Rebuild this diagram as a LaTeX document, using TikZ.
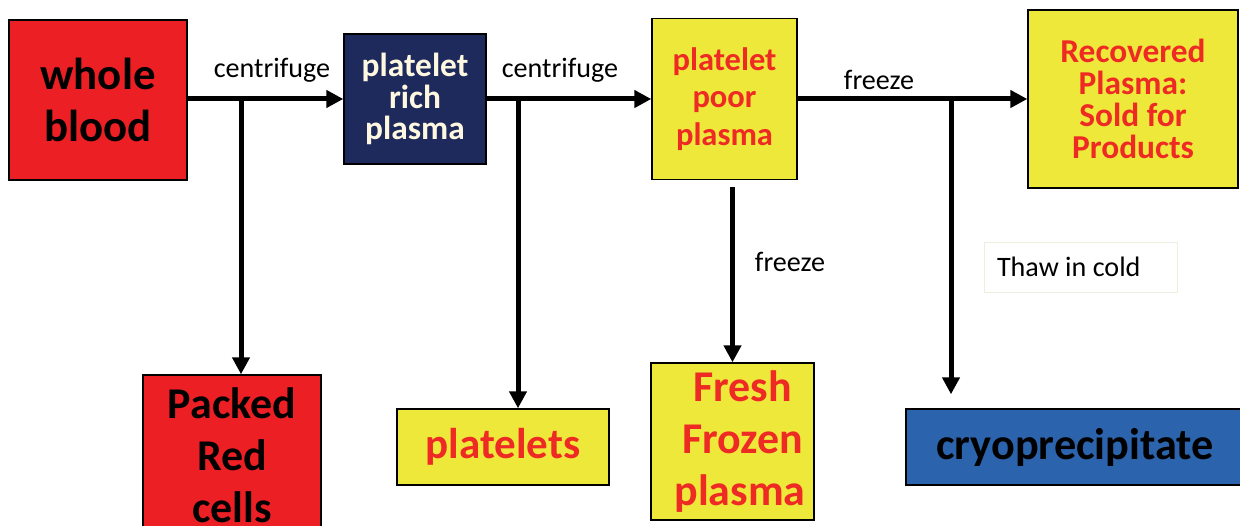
\documentclass[tikz,border=0pt]{standalone}
\usepackage{fontspec}
\setmainfont{Carlito}
\usetikzlibrary{arrows.meta,positioning}

\definecolor{bloodred}{HTML}{EC2024}
\definecolor{plyellow}{HTML}{EEE83A}
\definecolor{prpnavy}{HTML}{1F2A5C}
\definecolor{cryoblue}{HTML}{2B63AC}
\definecolor{labelred}{HTML}{EE2A24}
\definecolor{cream}{HTML}{FFF8E0}

\begin{document}
\begin{tikzpicture}[x=0.02cm, y=-0.02cm,
    box/.style={draw=black, line width=0.8pt, align=center, inner sep=0pt, font=\bfseries},
    flow/.style={line width=0.1cm, -{Triangle[length=0.34cm,width=0.34cm]}},
    lbl/.style={font=\fontsize{16}{19}\selectfont, inner sep=0pt}]

    \clip (0,0) rectangle (1240,526);
    \fill[white] (0,0) rectangle (1240,526);

    % top row
    \node[box, fill=bloodred, minimum width=3.56cm, minimum height=3.2cm,
        font=\bfseries\fontsize{25.5}{29.5}\selectfont] (blood) at (98,100) {whole\\blood};
    \node[box, fill=prpnavy, text=cream, minimum width=2.84cm, minimum height=2.6cm,
        font=\bfseries\fontsize{19}{18}\selectfont] (prp) at (415,99) {platelet\\rich\\plasma};
    \node[box, fill=plyellow, text=labelred, minimum width=2.9cm, minimum height=3.22cm,
        font=\bfseries\fontsize{18.5}{21.5}\selectfont] (ppp) at (724.5,99) {platelet\\poor\\plasma};
    \node[box, fill=plyellow, text=labelred, minimum width=4.2cm, minimum height=3.56cm,
        font=\bfseries\fontsize{19}{18.2}\selectfont] (recov) at (1133,99) {Recovered\\Plasma:\\Sold for\\Products};

    % bottom row
    \node[box, fill=bloodred, minimum width=3.56cm, minimum height=3.2cm,
        font=\bfseries\fontsize{25}{29.5}\selectfont] (packed) at (232,455) {Packed\\Red\\cells};
    \node[box, fill=plyellow, text=labelred, minimum width=4.24cm, minimum height=1.52cm,
        font=\bfseries\fontsize{24.5}{28}\selectfont] (plt) at (503,447) {platelets};
    \node[box, fill=plyellow, text=labelred, minimum width=3.26cm, minimum height=3.14cm,
        font=\bfseries\fontsize{25}{29.5}\selectfont] (ffp) at (732.5,441.5) {\hspace*{0.4cm}Fresh\\\hspace*{0.4cm}Frozen\\\hspace*{0.3cm}plasma};
    \node[box, fill=cryoblue, minimum width=6.76cm, minimum height=1.52cm,
        font=\bfseries\fontsize{25.2}{29}\selectfont] (cryo) at (1075,447) {cryoprecipitate};
    \node[lbl, draw={rgb,255:red,238;green,238;blue,222}, line width=0.4pt,
        text width=3.34cm, inner xsep=0.26cm, align=flush left, minimum height=1cm] (thaw) at (1080.5,267) {Thaw in cold};

    % labels on the arrows
    \node[lbl] (cf1) at (272,70) {centrifuge};
    \node[lbl] (cf2) at (560,70) {centrifuge};
    \node[lbl] (fz1) at (879,80) {freeze};
    \node[lbl] (fz2) at (790,262) {freeze};

    % branch points
    \coordinate (j1) at (241,99);
    \coordinate (j2) at (518,99);
    \coordinate (j3) at (951,99);

    \draw[flow] (blood.east |- j1) -- (prp.west);
    \draw[flow] (prp.east) -- (ppp.west);
    \draw[flow] (ppp.east) -- (recov.west);
    \draw[flow] (j1) -- (j1 |- packed.north);
    \draw[flow] (j2) -- (j2 |- plt.north);
    \draw[flow, shorten >=0.28cm] (j3) -- (j3 |- cryo.north);
    \draw[flow, shorten <=0.14cm] (ffp.north |- ppp.south) -- (ffp.north);

\end{tikzpicture}
\end{document}
